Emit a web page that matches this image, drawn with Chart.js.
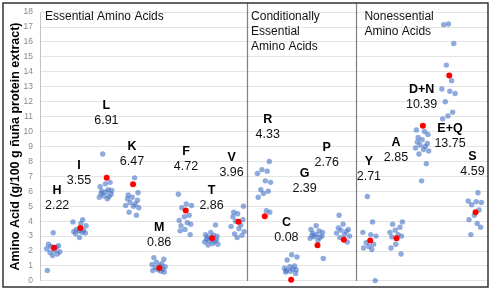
<!DOCTYPE html>
<html><head><meta charset="utf-8">
<script src="https://cdn.jsdelivr.net/npm/chart.js@4/dist/chart.umd.min.js"></script>
<style>html,body{margin:0;padding:0;background:#fff;}</style>
</head><body>
<canvas id="c" width="494" height="293"></canvas>
<script>
// ---- data ----
const categories = ['H','I','L','K','M','F','T','V','R','C','G','P','Y','A','D+N','E+Q','S'];
const means = [2.22,3.55,6.91,6.47,0.86,4.72,2.86,3.96,4.33,0.08,2.39,2.76,2.71,2.85,10.39,13.75,4.59];
const valuesH  = [3.22,2.45,2.35,2.3,2.25,2.15,2.05,1.95,1.9,1.8,1.7,0.7];
const valuesI  = [4.1,3.95,3.85,3.7,3.45,3.4,3.35,3.3,3.25,3.2,3.15,2.9];
const valuesL  = [8.5,6.6,6.5,6.3,6.1,6.05,6.0,5.95,5.85,5.8,5.7,5.65,5.6,5.5];
const valuesK  = [6.9,5.9,5.75,5.6,5.5,5.4,5.25,5.15,5.05,5.0,4.9,4.6,4.4];
const valuesM  = [1.55,1.45,1.25,1.15,1.1,1.0,0.95,0.9,0.8,0.75,0.7,0.65,0.6];
const valuesF  = [5.8,5.15,5.05,4.9,4.4,4.3,4.05,3.9,3.8,3.7,3.45,3.35,3.1];
const valuesT  = [3.75,3.25,3.1,3.05,3.0,2.95,2.9,2.8,2.75,2.7,2.65,2.6,2.5,2.45,2.4];
const valuesV  = [5.0,4.6,4.5,4.3,4.1,4.0,3.75,3.65,3.5,3.3,3.15,3.05,2.9];
const valuesR  = [8.0,7.45,7.35,7.2,6.7,6.6,6.1,6.0,5.85,5.6,4.7,4.6];
const valuesC  = [1.75,1.6,1.4,1.0,0.95,0.85,0.8,0.75,0.7,0.65,0.6,0.5];
const valuesG  = [3.7,3.45,3.35,3.25,3.2,3.1,3.05,3.0,2.95,2.9,2.85,2.7,1.5];
const valuesP  = [4.4,3.8,3.55,3.45,3.4,3.3,3.2,3.1,3.0,2.9,2.6];
const valuesY  = [5.65,3.95,3.25,3.1,3.0,2.55,2.45,2.3,2.2,2.1,0.02];
const valuesA  = [3.95,3.8,3.6,3.4,3.25,3.1,3.0,2.95,2.45,2.2,1.8];
const valuesDN = [10.1,10.0,9.8,9.6,9.45,9.3,9.2,9.1,9.0,8.9,8.8,8.7,8.5,7.85,6.7];
const valuesEQ = [17.2,17.15,15.9,14.45,13.4,12.85,12.7,12.55,12.0,11.3,11.05,10.85];
const valuesS  = [5.9,5.35,5.3,5.25,5.1,4.75,4.4,4.1,3.85,3.6,3.1];
const groupTitles = [['Essential Amino Acids'],['Conditionally','Essential','Amino Acids'],['Nonessential','Amino Acids']];
const yAxisTitle = 'Amino Acid (g/100 g ñuña protein extract)';

const sampleSets = [valuesH,valuesI,valuesL,valuesK,valuesM,valuesF,valuesT,valuesV,valuesR,valuesC,valuesG,valuesP,valuesY,valuesA,valuesDN,valuesEQ,valuesS];

// ---- layout helpers (positions, not data) ----
const JITTER = [0.0,-0.18,0.2,-0.08,0.12,-0.25,0.05,0.25,-0.12,0.16,-0.02,-0.22,0.09,0.22,-0.15];
const dividerAt = [7.37, 11.5];
const groupTitleX = [-0.31, 7.51, 11.81];
const labelAnchor = [[0.15,6.02],[0.98,7.73],[2.02,11.73],[2.99,9.0],[4.02,3.6],[5.04,8.63],[6.01,6.03],[6.77,8.29],
  [8.14,10.8],[8.85,3.91],[9.54,7.18],[10.38,8.91],[11.98,8.02],[13.01,9.29],[13.98,12.8],[15.06,10.18],[15.91,8.33]];

const blue = [];
sampleSets.forEach((arr,i)=>arr.forEach((v,k)=>blue.push({x:i+JITTER[(k+i*4)%JITTER.length], y:v})));
const red = means.map((v,i)=>({x:i+0.03, y:v}));

const FONT = "'Liberation Sans', Arial, sans-serif";

const overlay = {
  id:'overlay',
  afterDraw(chart){
    const {ctx, chartArea:a, scales:{x,y}} = chart;
    ctx.save();
    // dividers
    ctx.strokeStyle = '#7f7f7f'; ctx.lineWidth = 1.2;
    dividerAt.forEach(d=>{ const px = Math.round(x.getPixelForValue(d))+0.5;
      ctx.beginPath(); ctx.moveTo(px,3); ctx.lineTo(px,a.bottom); ctx.stroke(); });
    // group titles
    ctx.fillStyle = '#111'; ctx.font = '12px '+FONT; ctx.textAlign='left'; ctx.textBaseline='middle';
    groupTitles.forEach((lines,g)=>{ const px = x.getPixelForValue(groupTitleX[g]);
      lines.forEach((t,j)=>ctx.fillText(t, px, a.top+5+j*15)); });
    // category labels
    ctx.textAlign='center';
    categories.forEach((c,i)=>{
      const [lx,ly] = labelAnchor[i];
      const px = x.getPixelForValue(lx), py = y.getPixelForValue(ly);
      ctx.font = 'bold 12.5px '+FONT; ctx.fillStyle='#000';
      ctx.fillText(c, px, py);
      ctx.font = '12.5px '+FONT; ctx.fillStyle='#111';
      ctx.fillText(means[i].toFixed(2), px, py+15);
    });
    // outer frame
    ctx.strokeStyle = '#333'; ctx.lineWidth = 1.5;
    ctx.strokeRect(3, 3, 485, 284);
    ctx.restore();
  }
};

new Chart(document.getElementById('c'), {
  type:'scatter',
  data:{ datasets:[
    {label:'Mean', data:red, backgroundColor:'#ff0000', borderWidth:0, pointRadius:3, clip:false},
    {label:'Samples', data:blue, backgroundColor:'rgba(68,114,196,0.6)', borderWidth:0, pointRadius:2.7, clip:false}
  ]},
  options:{
    responsive:false, animation:false, devicePixelRatio:1,
    layout:{padding:{left:0,right:6,top:11,bottom:12}},
    plugins:{legend:{display:false}, tooltip:{enabled:false}},
    scales:{
      x:{type:'linear', min:-0.5, max:16.5, display:false},
      y:{min:0, max:18,
         ticks:{stepSize:1, color:'#8a8a8a', padding:7, font:{size:8.5, family:FONT}},
         grid:{color:'#e4e4e4', drawTicks:false},
         border:{color:'#c4c4c4'},
         title:{display:true, text:yAxisTitle, color:'#000', font:{size:12.5, weight:'bold', family:FONT}, padding:{top:8,bottom:0}},
         afterFit(s){ s.width = 40; }
      }
    }
  },
  plugins:[overlay]
});
</script>
</body></html>
